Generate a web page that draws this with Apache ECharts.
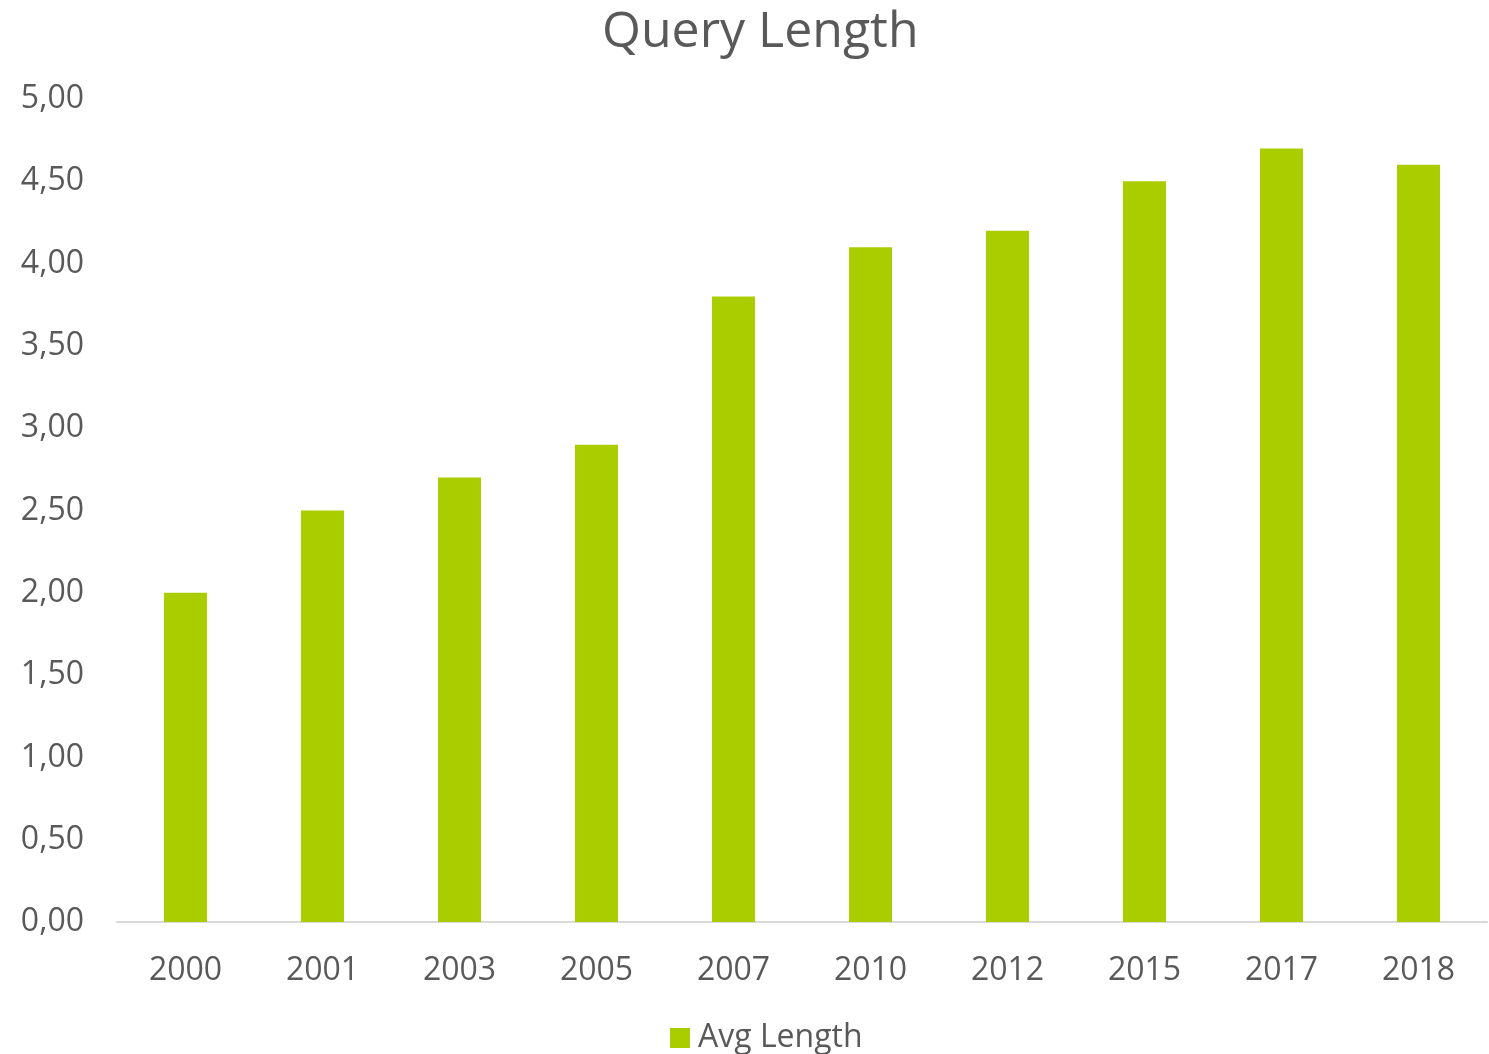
<!DOCTYPE html>
<html>
<head>
<meta charset="utf-8">
<script src="https://cdn.jsdelivr.net/npm/echarts@6/dist/echarts.min.js"></script>
<style>
  html, body { margin: 0; padding: 0; background: #ffffff; }
  #chart { width: 1489px; height: 1054px; }
</style>
</head>
<body>
<div id="chart"></div>
<script>
// Average query length per year
const years = ['2000', '2001', '2003', '2005', '2007', '2010', '2012', '2015', '2017', '2018'];
const avgLength = [2.0, 2.5, 2.7, 2.9, 3.8, 4.1, 4.2, 4.5, 4.7, 4.6];

const textColor = '#595959';
const fontFamily = '"Open Sans", "Noto Sans", sans-serif';

const chart = echarts.init(document.getElementById('chart'));
chart.setOption({
  backgroundColor: '#ffffff',
  animation: false,
  title: {
    text: 'Query Length',
    left: 597,
    top: 3,
    textStyle: { color: textColor, fontFamily: fontFamily, fontSize: 50, fontWeight: 'normal' }
  },
  legend: {
    top: 1017,
    left: 665,
    itemWidth: 20,
    itemHeight: 20,
    itemGap: 10,
    icon: 'rect',
    textStyle: { color: textColor, fontFamily: fontFamily, fontSize: 32, padding: [0, 0, 0, 3] },
    data: ['Avg Length']
  },
  grid: { left: 117, right: 2, top: 99, bottom: 132 },
  xAxis: {
    type: 'category',
    data: years,
    axisLine: { lineStyle: { color: '#d9d9d9', width: 2 } },
    axisTick: { show: false },
    axisLabel: { color: textColor, fontFamily: fontFamily, fontSize: 32, margin: 33 }
  },
  yAxis: {
    type: 'value',
    min: 0,
    max: 5,
    interval: 0.5,
    splitLine: { show: false },
    axisLine: { show: false },
    axisTick: { show: false },
    axisLabel: {
      color: textColor, fontFamily: fontFamily, fontSize: 32, margin: 33,
      padding: [4, 0, 0, 0],
      formatter: v => v.toFixed(2).replace('.', ',')
    }
  },
  series: [{
    name: 'Avg Length',
    type: 'bar',
    data: avgLength,
    barWidth: 43,
    itemStyle: { color: '#aacd00' }
  }]
});
</script>
</body>
</html>
